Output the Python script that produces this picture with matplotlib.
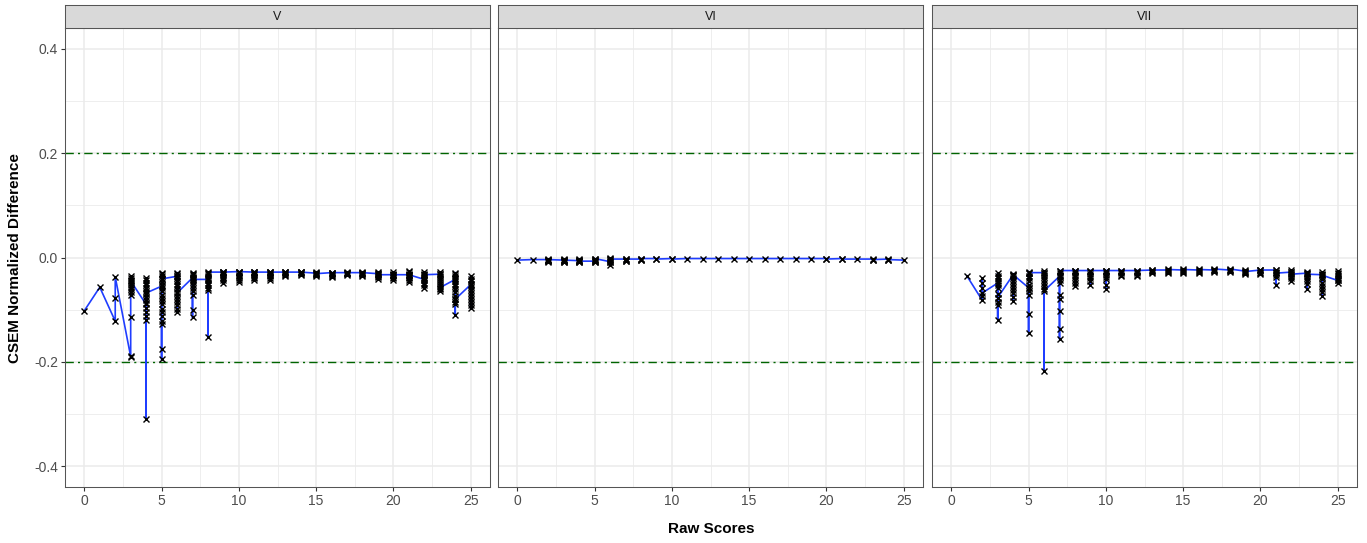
import numpy as np
import matplotlib
matplotlib.use("Agg")
import matplotlib.pyplot as plt

plt.rcParams["font.family"] = ["Liberation Sans", "DejaVu Sans"]
plt.rcParams["axes.unicode_minus"] = False

# Raw scores (0..25) and per-score CSEM normalized differences, in draw order
scores = list(range(26))

values_v = [
    [-0.102],
    [-0.057],
    [-0.122, -0.077, -0.037],
    [-0.190, -0.188, -0.114, -0.071, -0.066, -0.061, -0.057, -0.052, -0.048, -0.043, -0.039, -0.036, -0.045],
    [-0.090, -0.119, -0.112, -0.104, -0.097, -0.088, -0.081, -0.075, -0.070, -0.064, -0.058, -0.053,
     -0.048, -0.043, -0.039, -0.309, -0.068],
    [-0.055, -0.195, -0.175, -0.128, -0.121, -0.113, -0.105, -0.098, -0.090, -0.083, -0.077, -0.071,
     -0.065, -0.059, -0.053, -0.047, -0.041, -0.036, -0.032, -0.029, -0.041],
    [-0.036, -0.105, -0.098, -0.091, -0.085, -0.079, -0.073, -0.067, -0.061, -0.055, -0.050, -0.045,
     -0.040, -0.035, -0.031, -0.029, -0.068],
    [-0.039, -0.115, -0.100, -0.071, -0.064, -0.058, -0.052, -0.047, -0.043, -0.038, -0.034, -0.031,
     -0.029, -0.042],
    [-0.042, -0.152, -0.063, -0.058, -0.053, -0.048, -0.044, -0.040, -0.036, -0.032, -0.029, -0.028],
    [-0.028, -0.048, -0.044, -0.040, -0.037, -0.034, -0.031, -0.029, -0.027, -0.028],
    [-0.027, -0.047, -0.043, -0.039, -0.036, -0.033, -0.030, -0.028, -0.027],
    [-0.028, -0.044, -0.040, -0.037, -0.034, -0.031, -0.029, -0.027, -0.028],
    [-0.028, -0.043, -0.039, -0.036, -0.033, -0.031, -0.029, -0.027, -0.028],
    [-0.028, -0.036, -0.034, -0.032, -0.030, -0.028, -0.028],
    [-0.028, -0.034, -0.032, -0.030, -0.028, -0.028],
    [-0.030, -0.036, -0.034, -0.032, -0.030, -0.028, -0.031],
    [-0.029, -0.038, -0.035, -0.033, -0.031, -0.029, -0.029],
    [-0.029, -0.034, -0.032, -0.030, -0.028, -0.029],
    [-0.029, -0.036, -0.034, -0.032, -0.030, -0.028, -0.029],
    [-0.031, -0.041, -0.038, -0.035, -0.032, -0.029, -0.028, -0.033],
    [-0.033, -0.043, -0.040, -0.037, -0.034, -0.031, -0.028, -0.033],
    [-0.033, -0.047, -0.043, -0.040, -0.037, -0.034, -0.031, -0.028, -0.026, -0.033],
    [-0.042, -0.058, -0.052, -0.048, -0.044, -0.040, -0.037, -0.034, -0.031, -0.028, -0.033],
    [-0.032, -0.064, -0.060, -0.055, -0.051, -0.047, -0.043, -0.039, -0.035, -0.031, -0.028, -0.058],
    [-0.042, -0.110, -0.090, -0.085, -0.079, -0.073, -0.067, -0.061, -0.055, -0.050, -0.045, -0.040,
     -0.036, -0.032, -0.029, -0.080],
    [-0.052, -0.097, -0.092, -0.086, -0.080, -0.074, -0.068, -0.062, -0.056, -0.050, -0.045, -0.041,
     -0.036],
]

values_vi = [
    [-0.005],
    [-0.004],
    [-0.004, -0.008, -0.007, -0.006, -0.005, -0.003, -0.004],
    [-0.005, -0.009, -0.008, -0.007, -0.006, -0.004, -0.003, -0.005],
    [-0.006, -0.009, -0.008, -0.007, -0.005, -0.004, -0.003, -0.007],
    [-0.007, -0.009, -0.008, -0.006, -0.005, -0.004, -0.003, -0.002],
    [-0.008, -0.015, -0.009, -0.007, -0.005, -0.003, -0.001, -0.003],
    [-0.003, -0.007, -0.006, -0.004, -0.003],
    [-0.003, -0.005, -0.004, -0.002],
    [-0.002, -0.003],
    [-0.002, -0.003],
    [-0.002],
    [-0.002],
    [-0.002],
    [-0.002],
    [-0.002],
    [-0.002],
    [-0.002],
    [-0.002],
    [-0.002],
    [-0.002, -0.003],
    [-0.002, -0.003],
    [-0.003],
    [-0.003, -0.005, -0.004],
    [-0.003, -0.005, -0.004],
    [-0.005],
]

values_vii = [
    [],
    [-0.035],
    [-0.082, -0.073, -0.058, -0.048, -0.039, -0.068],
    [-0.049, -0.119, -0.092, -0.085, -0.077, -0.070, -0.058, -0.052, -0.046, -0.040, -0.035, -0.030, -0.077],
    [-0.033, -0.083, -0.075, -0.069, -0.063, -0.057, -0.051, -0.045, -0.040, -0.035, -0.031, -0.033],
    [-0.058, -0.144, -0.109, -0.072, -0.065, -0.058, -0.052, -0.046, -0.040, -0.035, -0.030, -0.027, -0.029],
    [-0.029, -0.218, -0.061, -0.055, -0.049, -0.043, -0.038, -0.033, -0.029, -0.026, -0.064],
    [-0.036, -0.156, -0.138, -0.103, -0.080, -0.072, -0.048, -0.043, -0.038, -0.034, -0.030, -0.026, -0.025],
    [-0.025, -0.055, -0.048, -0.043, -0.038, -0.034, -0.030, -0.026, -0.025],
    [-0.025, -0.053, -0.045, -0.040, -0.035, -0.031, -0.027, -0.025],
    [-0.025, -0.061, -0.053, -0.042, -0.037, -0.033, -0.029, -0.026, -0.025],
    [-0.025, -0.036, -0.033, -0.030, -0.027, -0.025],
    [-0.025, -0.036, -0.033, -0.030, -0.027, -0.025],
    [-0.024, -0.030, -0.028, -0.026, -0.024],
    [-0.024, -0.029, -0.027, -0.025, -0.023],
    [-0.024, -0.029, -0.027, -0.025, -0.023],
    [-0.024, -0.029, -0.027, -0.025, -0.023],
    [-0.024, -0.028, -0.026, -0.024, -0.022],
    [-0.024, -0.028, -0.026, -0.024, -0.022],
    [-0.026, -0.031, -0.029, -0.027, -0.024, -0.027],
    [-0.024, -0.032, -0.029, -0.027, -0.024, -0.024],
    [-0.024, -0.052, -0.038, -0.034, -0.030, -0.027, -0.024, -0.030],
    [-0.028, -0.046, -0.040, -0.035, -0.031, -0.027, -0.024, -0.032],
    [-0.030, -0.061, -0.050, -0.045, -0.040, -0.035, -0.031, -0.027, -0.032],
    [-0.033, -0.074, -0.066, -0.060, -0.054, -0.048, -0.042, -0.037, -0.032, -0.028, -0.034],
    [-0.044, -0.048, -0.044, -0.040, -0.036, -0.032, -0.029, -0.026],
]

panel_names = ["V", "VI", "VII"]
panel_values = [values_v, values_vi, values_vii]
cut_lines = [0.2, -0.2]
x_ticks = [0, 5, 10, 15, 20, 25]
y_ticks = [-0.4, -0.2, 0.0, 0.2, 0.4]

W, H = 1367, 543
fig = plt.figure(figsize=(W / 100, H / 100), dpi=100)

panel_left = [65, 498, 932]
panel_w = 425
top_px, bottom_px, strip_top = 28, 487, 5
border = "#555555"
grid_c = "#EBEBEB"
tick_c = "#4D4D4D"

for i, (name, vals) in enumerate(zip(panel_names, panel_values)):
    l = panel_left[i]
    ax = fig.add_axes([l / W, 1 - bottom_px / H, panel_w / W, (bottom_px - top_px) / H])
    xs, ys = [], []
    for s, v in zip(scores, vals):
        xs += [s] * len(v)
        ys += v
    ax.plot(xs, ys, color="#1f3dff", lw=1.2, zorder=3)
    ax.plot(xs, ys, ls="none", marker="x", ms=4.8, mew=1.0, color="black", zorder=4)
    for c in cut_lines:
        ax.axhline(c, color="#006400", lw=1.0, ls=(0, (6, 3, 1.5, 3)), zorder=2)

    ax.set_xticks(x_ticks)
    ax.set_xticks([2.5, 7.5, 12.5, 17.5, 22.5], minor=True)
    ax.set_yticks(y_ticks)
    ax.set_yticks([-0.3, -0.1, 0.1, 0.3], minor=True)
    ax.set_xlim(-1.25, 26.25)
    ax.set_ylim(-0.44, 0.44)
    ax.grid(True, which="major", color=grid_c, lw=1.1, zorder=0)
    ax.grid(True, which="minor", color=grid_c, lw=0.6, zorder=0)
    ax.set_axisbelow(True)
    ax.tick_params(which="minor", length=0)
    ax.tick_params(which="major", length=3, width=0.8, color="#333333",
                   labelcolor=tick_c, labelsize=10, pad=2)
    if i == 0:
        ax.set_yticklabels(["-0.4", "-0.2", "0.0", "0.2", "0.4"])
    else:
        ax.tick_params(axis="y", length=0, labelleft=False)
    for sp in ax.spines.values():
        sp.set_color(border)
        sp.set_linewidth(0.75)

    # facet strip
    sax = fig.add_axes([l / W, 1 - top_px / H, panel_w / W, (top_px - strip_top) / H])
    sax.set_facecolor("#D9D9D9")
    sax.set_xticks([])
    sax.set_yticks([])
    for sp in sax.spines.values():
        sp.set_color(border)
        sp.set_linewidth(0.75)
    sax.text(0.5, 0.5, name, ha="center", va="center", fontsize=9,
             color="#1A1A1A", transform=sax.transAxes)

fig.text(15 / W, 1 - 258 / H, "CSEM Normalized Difference", rotation=90,
         ha="center", va="center", fontsize=11, fontweight="bold")
fig.text(711 / W, 1 - 529 / H, "Raw Scores", ha="center", va="center",
         fontsize=11, fontweight="bold")

fig.savefig("out.png", dpi=100)
